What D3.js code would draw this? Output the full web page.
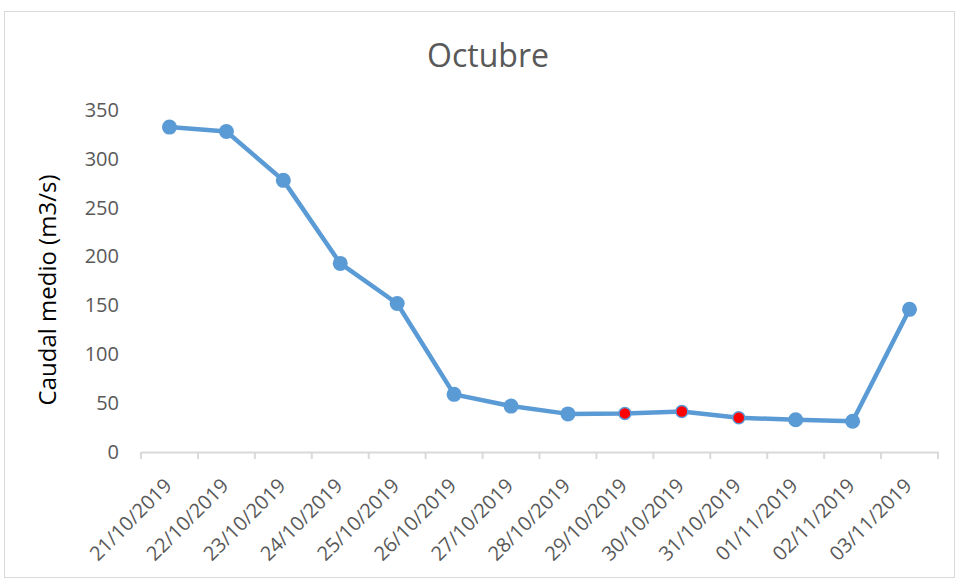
<!DOCTYPE html>
<html><head><meta charset="utf-8">
<script src="https://cdn.jsdelivr.net/npm/d3@7"></script>
<style>body{margin:0;background:#fff;}svg{display:block;}</style>
</head><body>
<svg id="c" width="956" height="580"></svg>
<script>
const categories = ["21/10/2019","22/10/2019","23/10/2019","24/10/2019","25/10/2019","26/10/2019","27/10/2019","28/10/2019","29/10/2019","30/10/2019","31/10/2019","01/11/2019","02/11/2019","03/11/2019"];
const caudal = [332.5, 328, 278, 193, 152, 59, 47, 39, 39.5, 41.5, 35, 33, 31.5, 146];
const highlighted = [false,false,false,false,false,false,false,false,true,true,true,false,false,false];
const yTicks = [0,50,100,150,200,250,300,350];
const title = "Octubre";
const yLabel = "Caudal medio (m3/s)";

const svg = d3.select("#c");
const font = "'Open Sans', sans-serif";
svg.append("rect").attr("x",4.5).attr("y",11.5).attr("width",950).attr("height",566)
  .attr("fill","#fff").attr("stroke","#d9d9d9");

const x = d3.scaleBand().domain(categories).range([141,938]);
const y = d3.scaleLinear().domain([0,350]).range([452,110]);

svg.append("text").attr("x",488).attr("y",67).attr("text-anchor","middle")
  .attr("font-family",font).attr("font-size",32).attr("fill","#595959").text(title);

const ya = svg.append("g").attr("transform","translate(141,0)")
  .call(d3.axisLeft(y).tickValues(yTicks).tickSize(0).tickPadding(22));
ya.select(".domain").remove();
ya.selectAll("text").attr("font-family",font).attr("font-size",20).attr("fill","#595959");

const xa = svg.append("g").attr("transform","translate(0,452)")
  .call(d3.axisBottom(x).tickSize(0).tickFormat(""));
xa.select(".domain").attr("stroke","#d9d9d9").attr("stroke-width",2);
const bounds = categories.map(c=>x(c)).concat([x.range()[1]]);
svg.append("g").selectAll("line").data(bounds).join("line")
  .attr("x1",d=>d).attr("x2",d=>d).attr("y1",452).attr("y2",459)
  .attr("stroke","#d9d9d9").attr("stroke-width",2);
svg.append("g").selectAll("text").data(categories).join("text")
  .attr("transform",d=>`translate(${x(d)+x.bandwidth()/2+3.5},${487}) rotate(-45)`)
  .attr("text-anchor","end").attr("font-family",font).attr("font-size",20).attr("fill","#595959")
  .text(d=>d);

svg.append("text").attr("transform","translate(56,290) rotate(-90)").attr("text-anchor","middle")
  .attr("font-family",font).attr("font-size",24).attr("fill","#000").text(yLabel);

const cx = d=>x(d)+x.bandwidth()/2;
const line = d3.line().x((d,i)=>cx(categories[i])).y(d=>y(d));
svg.append("path").datum(caudal).attr("d",line).attr("fill","none")
  .attr("stroke","#5B9BD5").attr("stroke-width",4.5).attr("stroke-linejoin","round");
svg.append("g").selectAll("circle").data(caudal).join("circle")
  .attr("cx",(d,i)=>cx(categories[i])).attr("cy",d=>y(d))
  .attr("r",(d,i)=>highlighted[i]?6:7.5)
  .attr("fill",(d,i)=>highlighted[i]?"#FF0000":"#5B9BD5")
  .attr("stroke","#5B9BD5").attr("stroke-width",(d,i)=>highlighted[i]?1.5:0);
</script>
</body></html>
